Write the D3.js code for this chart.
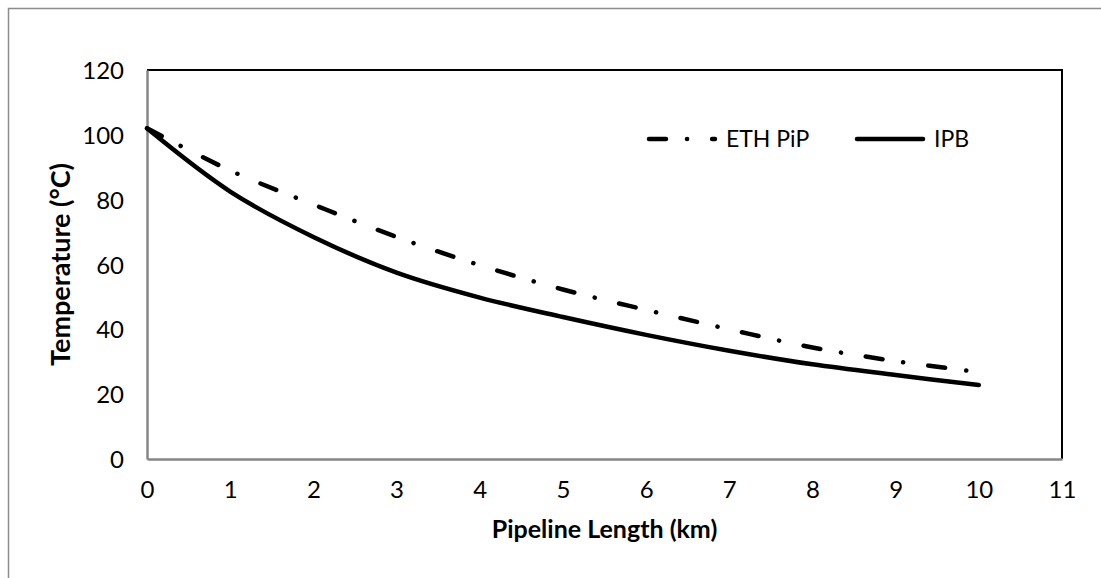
<!DOCTYPE html>
<html>
<head>
<meta charset="utf-8">
<script src="https://cdn.jsdelivr.net/npm/d3@7"></script>
<style>
    body { margin: 0; background: #fff; }
    svg text { font-family: Lato, "Open Sans", sans-serif; fill: #000; }
</style>
</head>
<body>
<div id="chart"></div>
<script>
// Données
const lengthKm = [0, 1, 2, 3, 4, 5, 6, 7, 8, 9, 10]
const ethPip = [102, 89, 78.5, 68.5, 59.8, 52.3, 46, 40, 34.4, 30.2, 26.8]
const ipb = [102, 82.5, 68.5, 57.5, 49.8, 43.8, 38.3, 33.4, 29.2, 25.9, 22.8]
const xTicks = [0, 1, 2, 3, 4, 5, 6, 7, 8, 9, 10, 11]
const yTicks = [0, 20, 40, 60, 80, 100, 120]
const seriesNames = ['ETH PiP', 'IPB']

// Constantes
const W = 1101, H = 578
const margin = { top: 70, right: 39, bottom: 119, left: 147 },
    width = W - margin.left - margin.right,
    height = H - margin.top - margin.bottom

const svg = d3.select('#chart')
    .append('svg')
    .attr('width', W)
    .attr('height', H)

// cadre extérieur (seuls les bords haut et gauche sont visibles)
svg.append('rect')
    .attr('x', 8.5)
    .attr('y', 8.5)
    .attr('width', W + 20)
    .attr('height', H + 20)
    .attr('fill', 'none')
    .attr('stroke', '#8c8c8c')
    .attr('stroke-width', 1.5)

const g = svg.append('g')
    .attr('transform', 'translate(' + margin.left + ',' + margin.top + ')')

// Echelles
const x = d3.scaleLinear().domain([0, 11]).range([0, width])
const y = d3.scaleLinear().domain([0, 120]).range([height, 0])

// bordure de la zone de tracé (haut et droite en noir)
g.append('path')
    .attr('d', 'M0,0H' + width + 'V' + height)
    .attr('fill', 'none')
    .attr('stroke', '#000')
    .attr('stroke-width', 2)

// axes
const xAxis = g.append('g')
    .attr('transform', 'translate(0,' + height + ')')
    .call(d3.axisBottom(x).tickValues(xTicks).tickSize(0).tickPadding(22))
const yAxis = g.append('g')
    .call(d3.axisLeft(y).tickValues(yTicks).tickSize(0).tickPadding(23))

for (let axis of [xAxis, yAxis]) {
    axis.select('.domain').attr('stroke', '#868686').attr('stroke-width', 2.5)
    axis.selectAll('text').style('font-size', '24px').attr('fill', '#000')
}
yAxis.selectAll('text').attr('dy', '0.36em')

// titres des axes
svg.append('text')
    .attr('x', margin.left + width / 2)
    .attr('y', 538)
    .attr('text-anchor', 'middle')
    .style('font-size', '25px')
    .style('font-weight', 'bold')
    .text('Pipeline Length (km)')

svg.append('text')
    .attr('transform', 'translate(70,' + (margin.top + height / 2) + ') rotate(-90)')
    .attr('text-anchor', 'middle')
    .style('font-size', '27px')
    .style('font-weight', 'bold')
    .text('Temperature (°C)')

// courbes
const line = d3.line()
    .x(function (d, i) { return x(lengthKm[i]) })
    .y(function (d) { return y(d) })
    .curve(d3.curveCatmullRom.alpha(0.5))

const dashDot = '17,21,0.1,25'

g.append('path')
    .datum(ethPip)
    .attr('d', line)
    .attr('fill', 'none')
    .attr('stroke', '#000')
    .attr('stroke-width', 4.5)
    .attr('stroke-linecap', 'round')
    .attr('stroke-dasharray', dashDot)

g.append('path')
    .datum(ipb)
    .attr('d', line)
    .attr('fill', 'none')
    .attr('stroke', '#000')
    .attr('stroke-width', 4.5)
    .attr('stroke-linecap', 'round')

// légende
const legend = svg.append('g')
const legendX = [649, 857]
for (let i = 0; i < seriesNames.length; i++) {
    legend.append('line')
        .attr('x1', legendX[i])
        .attr('x2', legendX[i] + 66)
        .attr('y1', 139)
        .attr('y2', 139)
        .attr('stroke', '#000')
        .attr('stroke-width', 4.5)
        .attr('stroke-linecap', 'round')
        .attr('stroke-dasharray', i == 0 ? dashDot : null)
    legend.append('text')
        .attr('x', legendX[i] + 77)
        .attr('y', 139)
        .attr('dy', '0.36em')
        .style('font-size', '23px')
        .text(seriesNames[i])
}
</script>
</body>
</html>
